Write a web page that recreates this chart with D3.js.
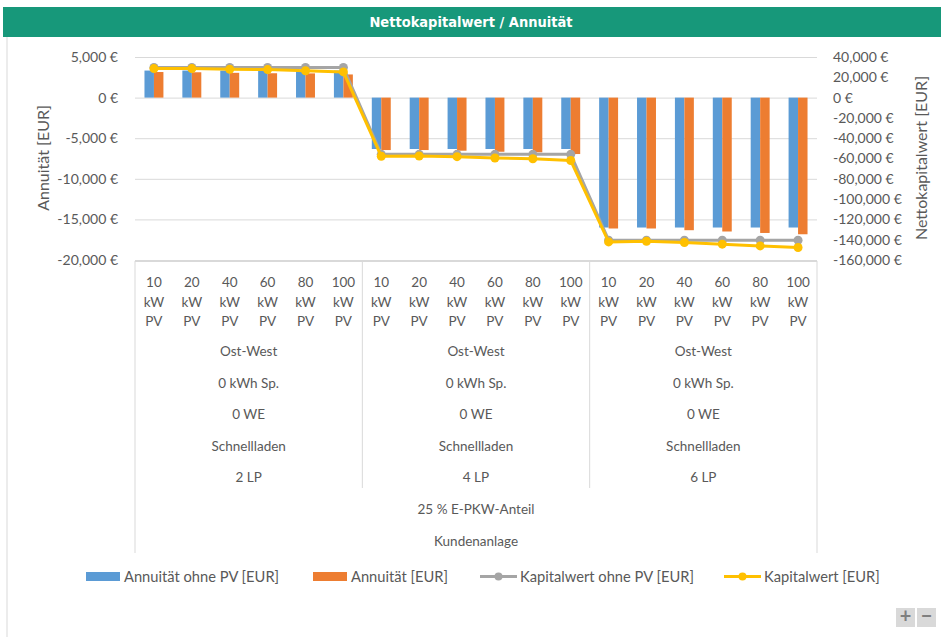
<!DOCTYPE html>
<html>
<head>
<meta charset="utf-8">
<script src="https://cdn.jsdelivr.net/npm/d3@7"></script>
<style>
  body { margin: 0; background: #fff; }
  svg { display: block; font-family: Lato, "Open Sans", sans-serif; }
</style>
</head>
<body>
<div id="chart-container"></div>
<script>
const W = 941, H = 637;
const plot = { left: 135, right: 817, top: 57, bottom: 260 };

// data
const pvSizes = ["10", "20", "40", "60", "80", "100"];
const groupLP = ["2 LP", "4 LP", "6 LP"];
const groupLines = ["Ost-West", "0 kWh Sp.", "0 WE", "Schnellladen"];
const topLines = ["25 % E-PKW-Anteil", "Kundenanlage"];

const annuitaetOhnePV = [3330, 3330, 3330, 3330, 3330, 3330,
  -6330, -6330, -6330, -6330, -6330, -6330,
  -16000, -16000, -16000, -16000, -16000, -16000];
const annuitaet = [3150, 3120, 3050, 3000, 2980, 2850,
  -6460, -6460, -6540, -6670, -6740, -6950,
  -16120, -16120, -16330, -16490, -16670, -16830];
const kapitalwertOhnePV = [29600, 29600, 29600, 29600, 29600, 29600,
  -55900, -55900, -55900, -55900, -55900, -55900,
  -140500, -140500, -140500, -140500, -140500, -140500];
const kapitalwert = [28600, 28600, 27900, 27600, 26500, 25300,
  -57800, -57500, -58200, -59500, -60200, -62000,
  -142200, -141500, -142800, -144400, -146100, -147700];

const leftTicks = [5000, 0, -5000, -10000, -15000, -20000];
const rightTicks = [40000, 20000, 0, -20000, -40000, -60000, -80000, -100000, -120000, -140000, -160000];

const colors = { blue: "#5B9BD5", orange: "#ED7D31", gray: "#A5A5A5", yellow: "#FFC000" };
const textColor = "#595959";

const cats = d3.range(annuitaet.length);

const svg = d3.select("#chart-container")
  .append("svg")
  .attr("width", W)
  .attr("height", H);

// title bar
svg.append("rect")
  .attr("x", 3).attr("y", 7)
  .attr("width", W - 3).attr("height", 30)
  .attr("fill", "#17987A");
svg.append("text")
  .attr("x", 471).attr("y", 27)
  .attr("text-anchor", "middle")
  .attr("fill", "#fff")
  .attr("font-family", "'DejaVu Sans Condensed', 'Open Sans', sans-serif")
  .attr("font-weight", "bold")
  .attr("font-size", 14.5)
  .text("Nettokapitalwert / Annuität");

// outer frame line on the left
svg.append("line")
  .attr("x1", 7).attr("x2", 7).attr("y1", 37).attr("y2", H)
  .attr("stroke", "#d9d9d9");

const x = d3.scaleBand().domain(cats).range([plot.left, plot.right]);
const yL = d3.scaleLinear().domain([-20000, 5000]).range([plot.bottom, plot.top]);
const yR = d3.scaleLinear().domain([-160000, 40000]).range([plot.bottom, plot.top]);

const fmt = d => d3.format(",")(d).replace("−", "-") + " €";

// gridlines
svg.append("g")
  .selectAll("line")
  .data(leftTicks)
  .join("line")
  .attr("x1", plot.left).attr("x2", plot.right)
  .attr("y1", d => yL(d) + 0.5).attr("y2", d => yL(d) + 0.5)
  .attr("stroke", "#d9d9d9");

// axes
const axL = svg.append("g")
  .attr("transform", `translate(${plot.left},0)`)
  .call(d3.axisLeft(yL).tickValues(leftTicks).tickFormat(fmt).tickSize(0).tickPadding(17));
const axR = svg.append("g")
  .attr("transform", `translate(${plot.right},0)`)
  .call(d3.axisRight(yR).tickValues(rightTicks).tickFormat(fmt).tickSize(0).tickPadding(16));
[axL, axR].forEach(a => {
  a.select(".domain").remove();
  a.selectAll("text")
    .attr("fill", textColor)
    .attr("font-size", 14)
    .attr("font-family", "Lato, sans-serif");
});

svg.append("text")
  .attr("transform", "translate(49,158) rotate(-90)")
  .attr("text-anchor", "middle")
  .attr("fill", textColor).attr("font-size", 16)
  .text("Annuität [EUR]");
svg.append("text")
  .attr("transform", "translate(927,158) rotate(-90)")
  .attr("text-anchor", "middle")
  .attr("fill", textColor).attr("font-size", 16)
  .text("Nettokapitalwert [EUR]");

// bars
const bw = x.bandwidth() * 0.25;
svg.append("g")
  .selectAll("rect")
  .data(cats)
  .join("rect")
  .attr("x", i => x(i) + x.bandwidth() / 2 - bw)
  .attr("width", bw)
  .attr("y", i => Math.min(yL(annuitaetOhnePV[i]), yL(0)))
  .attr("height", i => Math.abs(yL(annuitaetOhnePV[i]) - yL(0)))
  .attr("fill", colors.blue);
svg.append("g")
  .selectAll("rect")
  .data(cats)
  .join("rect")
  .attr("x", i => x(i) + x.bandwidth() / 2)
  .attr("width", bw)
  .attr("y", i => Math.min(yL(annuitaet[i]), yL(0)))
  .attr("height", i => Math.abs(yL(annuitaet[i]) - yL(0)))
  .attr("fill", colors.orange);

// lines
const cx = i => x(i) + x.bandwidth() / 2;
[[kapitalwertOhnePV, colors.gray], [kapitalwert, colors.yellow]].forEach(([vals, c]) => {
  const line = d3.line().x((d, i) => cx(i)).y(d => yR(d));
  svg.append("path")
    .datum(vals)
    .attr("d", line)
    .attr("fill", "none")
    .attr("stroke", c)
    .attr("stroke-width", 3)
    .attr("stroke-linejoin", "round");
  svg.append("g")
    .selectAll("circle")
    .data(vals)
    .join("circle")
    .attr("cx", (d, i) => cx(i))
    .attr("cy", d => yR(d))
    .attr("r", 4.5)
    .attr("fill", c);
});

// category table
const tbl = svg.append("g").attr("stroke", "#d9d9d9").attr("fill", "none");
tbl.append("line").attr("x1", plot.left).attr("x2", plot.right).attr("y1", 261.5).attr("y2", 261.5);
tbl.append("line").attr("x1", plot.left).attr("x2", plot.left).attr("y1", 261).attr("y2", 553);
tbl.append("line").attr("x1", plot.right).attr("x2", plot.right).attr("y1", 261).attr("y2", 553);
tbl.selectAll(".sep")
  .data([6, 12])
  .join("line")
  .attr("x1", i => x(i)).attr("x2", i => x(i))
  .attr("y1", 261).attr("y2", 488);

const lab = svg.append("g")
  .attr("fill", textColor)
  .attr("font-size", 13.5)
  .attr("text-anchor", "middle");

cats.forEach(i => {
  [pvSizes[i % 6], "kW", "PV"].forEach((t, k) => {
    lab.append("text")
      .attr("x", cx(i))
      .attr("y", 287 + k * 19.5)
      .text(t);
  });
});

groupLP.forEach((lp, g) => {
  const gx = (x(g * 6) + x(g * 6 + 5) + x.bandwidth()) / 2;
  groupLines.concat([lp]).forEach((t, k) => {
    lab.append("text")
      .attr("x", gx)
      .attr("y", 356 + k * 31.5)
      .text(t);
  });
});

topLines.forEach((t, k) => {
  lab.append("text")
    .attr("x", (plot.left + plot.right) / 2)
    .attr("y", 514 + k * 32)
    .text(t);
});

// legend
const legend = [
  { name: "Annuität ohne PV [EUR]", color: colors.blue, type: "bar", x: 86 },
  { name: "Annuität [EUR]", color: colors.orange, type: "bar", x: 313 },
  { name: "Kapitalwert ohne PV [EUR]", color: colors.gray, type: "line", x: 480 },
  { name: "Kapitalwert [EUR]", color: colors.yellow, type: "line", x: 724 }
];
const lg = svg.append("g");
legend.forEach(d => {
  if (d.type === "bar") {
    lg.append("rect")
      .attr("x", d.x).attr("y", 572)
      .attr("width", 34).attr("height", 9)
      .attr("fill", d.color);
  } else {
    lg.append("line")
      .attr("x1", d.x).attr("x2", d.x + 37)
      .attr("y1", 576.5).attr("y2", 576.5)
      .attr("stroke", d.color).attr("stroke-width", 3);
    lg.append("circle")
      .attr("cx", d.x + 18.5).attr("cy", 576.5).attr("r", 4)
      .attr("fill", d.color);
  }
  lg.append("text")
    .attr("x", d.x + (d.type === "bar" ? 38 : 40))
    .attr("y", 581.5)
    .attr("fill", textColor)
    .attr("font-size", 14.7)
    .text(d.name);
});

// zoom buttons
const btns = svg.append("g");
["+", "−"].forEach((s, k) => {
  btns.append("rect")
    .attr("x", 896 + k * 21).attr("y", 608)
    .attr("width", 19).attr("height", 19)
    .attr("fill", "#d9d9d9");
  btns.append("text")
    .attr("x", 905.5 + k * 21).attr("y", 623)
    .attr("text-anchor", "middle")
    .attr("fill", "#7f7f7f")
    .attr("font-size", 20)
    .attr("font-weight", "bold")
    .text(s);
});
</script>
</body>
</html>
